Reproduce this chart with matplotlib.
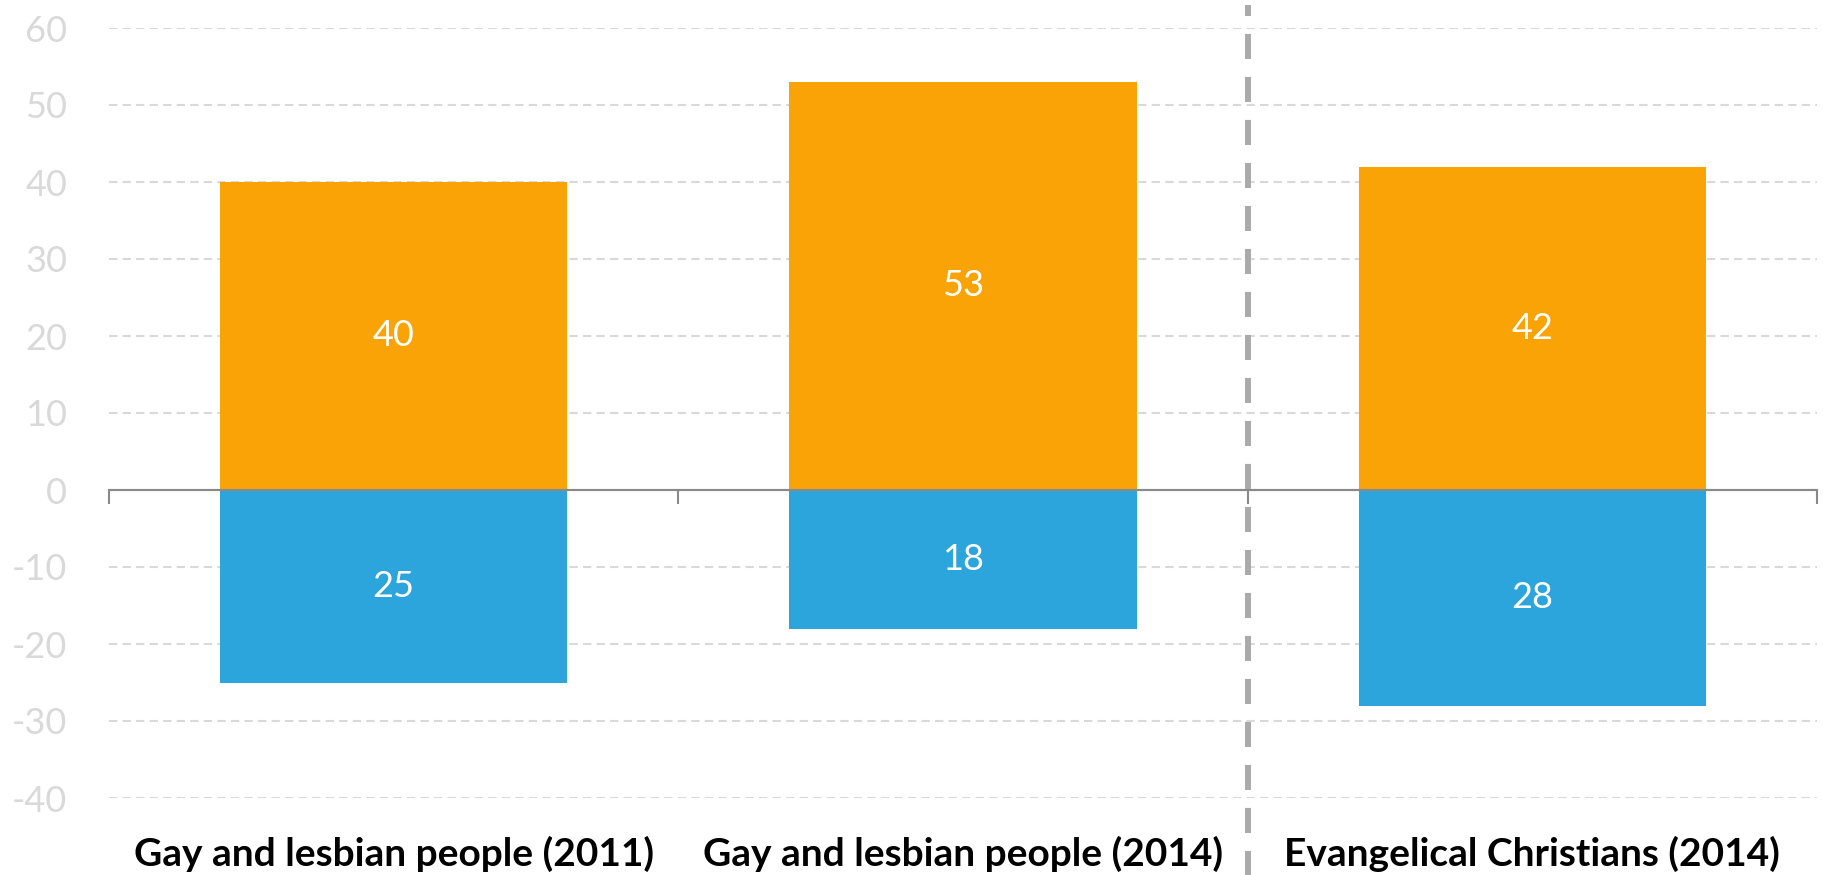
import numpy as np
import matplotlib.pyplot as plt

# data
categories = ['Gay and lesbian people (2011)', 'Gay and lesbian people (2014)', 'Evangelical Christians (2014)']
positive = [40, 53, 42]
negative = [25, 18, 28]
yticks = [-40, -30, -20, -10, 0, 10, 20, 30, 40, 50, 60]

orange = '#faa307'
blue = '#2ca5dc'

plt.rcParams['font.family'] = ['Lato', 'DejaVu Sans']
plt.rcParams['axes.unicode_minus'] = False

fig = plt.figure(figsize=(18.23, 8.75), dpi=100)
ax = fig.add_axes([109/1823, 1 - 798/875, (1817 - 109)/1823, (798 - 28)/875])

x = np.arange(len(categories))
w = 0.61
ax.bar(x, positive, width=w, color=orange, zorder=3)
ax.bar(x, [-v for v in negative], width=w, color=blue, zorder=3)

for xi, p, n in zip(x, positive, negative):
    ax.text(xi, p / 2, str(p), ha='center', va='center', color='white', fontsize=26, zorder=4)
    ax.text(xi, -n / 2, str(n), ha='center', va='center', color='white', fontsize=26, zorder=4)

ax.set_xlim(-0.5, len(categories) - 0.5)
ax.set_ylim(-40, 60)
ax.set_yticks(yticks)
ax.tick_params(axis='y', length=0, pad=30, labelsize=26, labelcolor='#d9d9d9')
for t in yticks:
    if t != 0:
        ax.axhline(t, color='#d9d9d9', lw=1.5, dashes=(4, 2.5), zorder=1)

for s in ax.spines.values():
    s.set_visible(False)

ax.set_xticks(x)
ax.set_xticklabels(categories, fontsize=28, fontweight='bold', color='black')
ax.tick_params(axis='x', length=0, pad=27)

# zero axis with tick marks at category boundaries
sec = ax.secondary_xaxis(0.4)
sec.set_xticks(np.arange(len(categories) + 1) - 0.5)
sec.set_xticklabels([])
sec.tick_params(axis='x', length=10, width=1.5, color='#898989')
sec.spines['bottom'].set_color('#898989')
sec.spines['bottom'].set_linewidth(1.5)
for k in ['top', 'left', 'right']:
    sec.spines[k].set_visible(False)
ax.axhline(0, color='#898989', lw=1.5, zorder=4)

# separator between groups
ax.axvline(1.5, ymin=-0.11, ymax=1.03, color='#aaaaaa', lw=4.3, dashes=(4.2, 3), clip_on=False, zorder=5)

fig.savefig('out.png', dpi=100)
